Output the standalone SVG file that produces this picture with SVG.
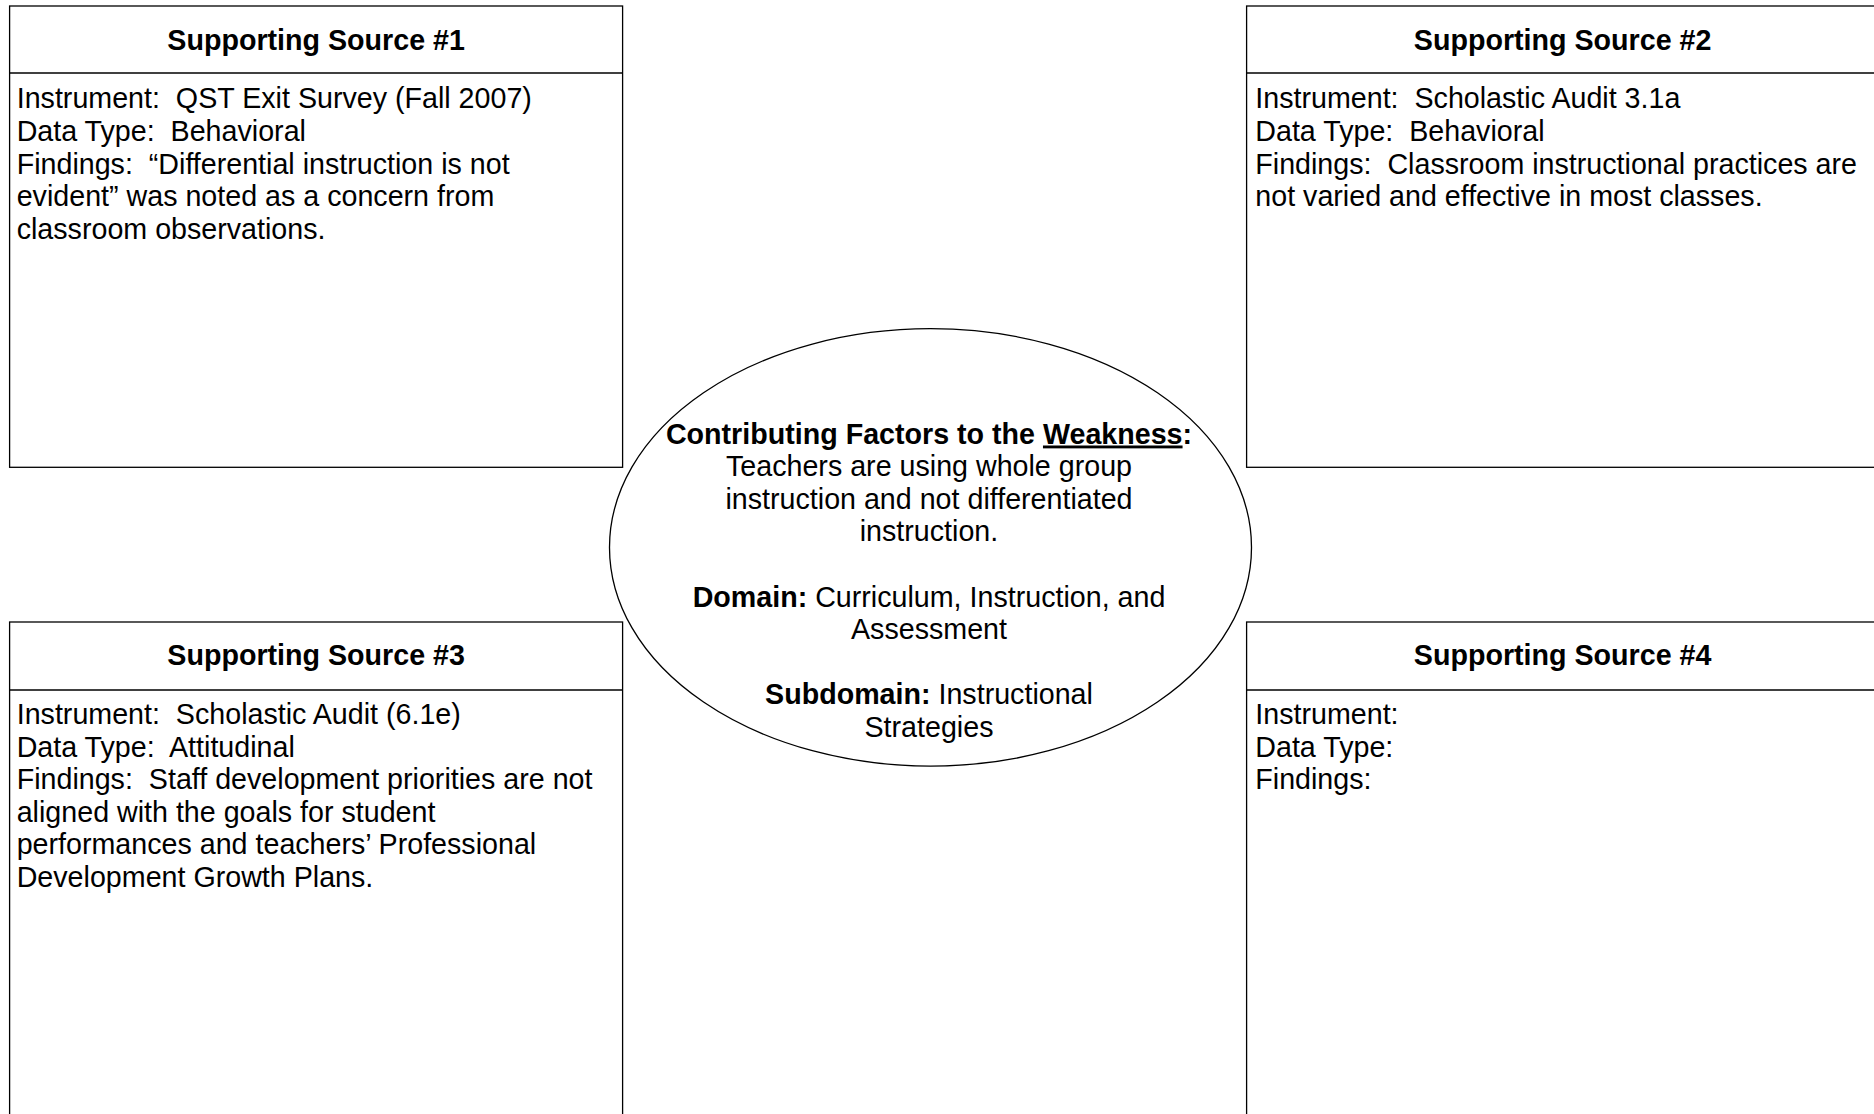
<svg xmlns="http://www.w3.org/2000/svg" width="1874" height="1114" viewBox="0 0 1874 1114">
<style>
.box{fill:#fff;stroke:#000;stroke-width:1.3}
.ln{stroke:#000;stroke-width:1.3}
text{font-family:"Liberation Sans",Arial,sans-serif;font-size:28.65px;fill:#000;white-space:pre}
.t{font-weight:bold;text-anchor:middle}
.c{text-anchor:middle}
.b{font-weight:bold}
.u{text-decoration:underline}
</style>
<rect width="1874" height="1114" fill="#fff"/>
<g id="connectors"></g>
<g id="source1">
<rect class="box" x="9.6" y="6" width="613" height="461.3"/>
<line class="ln" x1="9.6" y1="73" x2="622.6" y2="73"/>
<text class="t" x="316.1" y="50">Supporting Source #1</text>
<text x="16.7" y="108.3">Instrument:  QST Exit Survey (Fall 2007)</text>
<text x="16.7" y="140.9">Data Type:  Behavioral</text>
<text x="16.7" y="173.5">Findings:  “Differential instruction is not</text>
<text x="16.7" y="206.1">evident” was noted as a concern from</text>
<text x="16.7" y="238.7">classroom observations.</text>
</g>
<g id="source2">
<rect class="box" x="1246.6" y="6" width="632" height="461.3"/>
<line class="ln" x1="1246.6" y1="73" x2="1878.6" y2="73"/>
<text class="t" x="1562.6" y="50">Supporting Source #2</text>
<text x="1255.3" y="108.3">Instrument:  Scholastic Audit 3.1a</text>
<text x="1255.3" y="140.9">Data Type:  Behavioral</text>
<text x="1255.3" y="173.5">Findings:  Classroom instructional practices are</text>
<text x="1255.3" y="206.1">not varied and effective in most classes.</text>
</g>
<g id="source3">
<rect class="box" x="9.6" y="622" width="613" height="520"/>
<line class="ln" x1="9.6" y1="690" x2="622.6" y2="690"/>
<text class="t" x="316.1" y="665">Supporting Source #3</text>
<text x="16.7" y="724">Instrument:  Scholastic Audit (6.1e)</text>
<text x="16.7" y="756.6">Data Type:  Attitudinal</text>
<text x="16.7" y="789.2">Findings:  Staff development priorities are not</text>
<text x="16.7" y="821.8">aligned with the goals for student</text>
<text x="16.7" y="854.4">performances and teachers’ Professional</text>
<text x="16.7" y="887">Development Growth Plans.</text>
</g>
<g id="source4">
<rect class="box" x="1246.6" y="622" width="632" height="520"/>
<line class="ln" x1="1246.6" y1="690" x2="1878.6" y2="690"/>
<text class="t" x="1562.6" y="665">Supporting Source #4</text>
<text x="1255.3" y="724">Instrument:</text>
<text x="1255.3" y="756.6">Data Type:</text>
<text x="1255.3" y="789.2">Findings:</text>
</g>
<g id="weakness">
<ellipse class="box" cx="930.5" cy="547.4" rx="321" ry="218.7"/>
<text class="c" x="929" y="443.5"><tspan class="b">Contributing Factors to the </tspan><tspan class="b u">Weakness</tspan><tspan class="b">:</tspan></text>
<text class="c" x="929" y="476.1">Teachers are using whole group</text>
<text class="c" x="929" y="508.7">instruction and not differentiated</text>
<text class="c" x="929" y="541.3">instruction.</text>
<text class="c" x="929" y="606.5"><tspan class="b">Domain:</tspan> Curriculum, Instruction, and</text>
<text class="c" x="929" y="639.1">Assessment</text>
<text class="c" x="929" y="704.3"><tspan class="b">Subdomain:</tspan> Instructional</text>
<text class="c" x="929" y="736.9">Strategies</text>
</g>
</svg>
